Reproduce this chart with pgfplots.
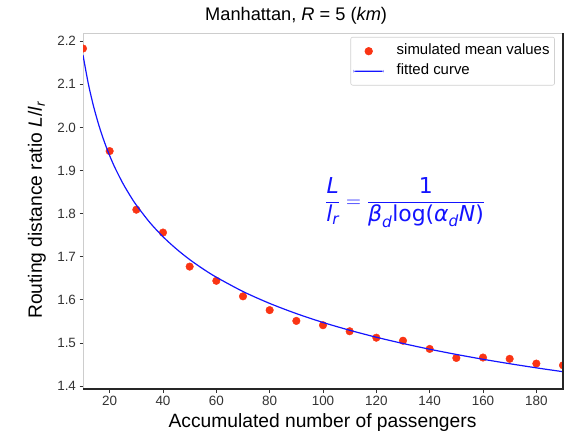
\documentclass[border=0pt]{standalone}
\usepackage{pgfplots}
\pgfplotsset{compat=1.18}
\usepackage{pgfplotstable}
\usepackage{amsmath}
\usepackage{fontspec}
\setmainfont{Liberation Sans}
\newfontfamily\formulafont{DejaVu Sans}

\definecolor{ptred}{RGB}{250,52,20}
\definecolor{spinegray}{RGB}{205,205,205}
\definecolor{fitblue}{RGB}{20,20,255}

% italic / upright pieces of the fitted-law formula
\newcommand\fit[1]{\text{\formulafont\itshape #1}}
\newcommand\fup[1]{\text{\formulafont #1}}

% legend glyphs: a single dot, and a 30bp blue bar
\pgfplotsset{
  simdot glyph/.style={legend image code/.code={\draw[mark repeat=2,mark phase=2,##1] plot coordinates {(0bp,0bp) (15bp,0bp) (30bp,0bp)};}},
  fitline glyph/.style={legend image code/.code={\fill[fill=fitblue, draw=none] (0bp,-0.65bp) rectangle (30bp,0.65bp);}},
}

% simulated mean routing-distance ratio
\pgfplotstableread{
N ratio
10  2.183
20  1.945
30  1.809
40  1.756
50  1.677
60  1.644
70  1.608
80  1.576
90  1.551
100 1.541
110 1.527
120 1.512
130 1.505
140 1.486
150 1.465
160 1.466
170 1.463
180 1.452
190 1.448
}\simdata

% fitted curve L/l_r = 1/(beta_d log(alpha_d N))
\pgfplotstableread{
N fit
10  2.1679
12  2.1012
14  2.0479
16  2.0039
18  1.9666
20  1.9344
22  1.9062
25  1.8696
28  1.8383
30  1.8198
35  1.7797
40  1.7463
45  1.7180
50  1.6933
55  1.6717
60  1.6524
70  1.6192
80  1.5916
90  1.5680
100 1.5474
110 1.5293
120 1.5131
130 1.4986
140 1.4853
150 1.4732
160 1.4620
170 1.4517
180 1.4421
190 1.4331
}\fitdata

\begin{document}
\begin{tikzpicture}
\begin{axis}[
  scale only axis,
  width=480bp, height=356bp,
  xmin=10, xmax=190,
  ymin=1.393, ymax=2.219,
  xtick={20,40,60,80,100,120,140,160,180},
  ytick={1.4,1.5,1.6,1.7,1.8,1.9,2.0,2.1,2.2},
  yticklabel style={/pgf/number format/.cd, fixed, fixed zerofill, precision=1},
  /pgf/number format/assume math mode=true,
  tick align=outside,
  xtick pos=bottom, ytick pos=left,
  major tick length=3.5bp,
  tick style={black!80, line width=0.6bp},
  ticklabel style={font=\fontsize{13.5}{16}\selectfont, text=black!80},
  axis line style={spinegray, line width=0.8bp},
  clip marker paths=true,
  title={Manhattan, \textit{R} = 5 (\textit{km})},
  title style={font=\fontsize{18.3}{22}\selectfont, at={(axis description cs:0.444,1.031)}, anchor=center},
  xlabel={Accumulated number of passengers},
  xlabel style={font=\fontsize{19.3}{22}\selectfont, at={(axis description cs:0.499,-0.093)}, anchor=center},
  ylabel={Routing distance ratio \textit{L}/\textit{l}\textsubscript{\textit{r}}},
  ylabel style={font=\fontsize{19.3}{22}\selectfont, at={(axis description cs:-0.096,0.503)}, anchor=center, rotate=0},
  legend cell align=left,
  legend style={
    at={(axis description cs:0.983,0.989)}, anchor=north east,
    draw=black!18, rounded corners=2bp, line width=0.6bp,
    font=\fontsize{15}{18}\selectfont,
    inner xsep=3bp, inner ysep=4bp,
    row sep=0bp,
    /tikz/every odd column/.append style={column sep=11bp},
    /tikz/every even column/.append style={inner sep=1bp, text depth=0.25em, text height=0.85em, minimum height=20bp},
  },
]
\addplot[only marks, mark=*, mark size=3.8bp, color=ptred, simdot glyph]
  table[x=N, y=ratio] {\simdata};
\addlegendentry{simulated mean values}

\addplot[color=fitblue, line width=1.2bp, smooth, fitline glyph]
  table[x=N, y=fit] {\fitdata};
\addlegendentry{fitted curve}

\node[fitblue, font=\fontsize{22}{26}\selectfont] at (axis cs:130.8,1.826)
  {$\dfrac{\fit{L}}{\fit{l}_{\fit{r}}} = \dfrac{\fup{1}}{\fit{β}_{\fit{d}}\fup{log(}\fit{α}_{\fit{d}}\fit{N}\fup{)}}$};
\end{axis}
% darker right and bottom spines
\draw[black!85, line width=1.2bp] (current axis.south west) -- (current axis.south east) -- (current axis.north east);
% page frame
\pgfresetboundingbox
\path[use as bounding box] ([shift={(-83bp,-45bp)}]current axis.south west) rectangle ++(572bp,434bp);
\end{tikzpicture}
\end{document}
